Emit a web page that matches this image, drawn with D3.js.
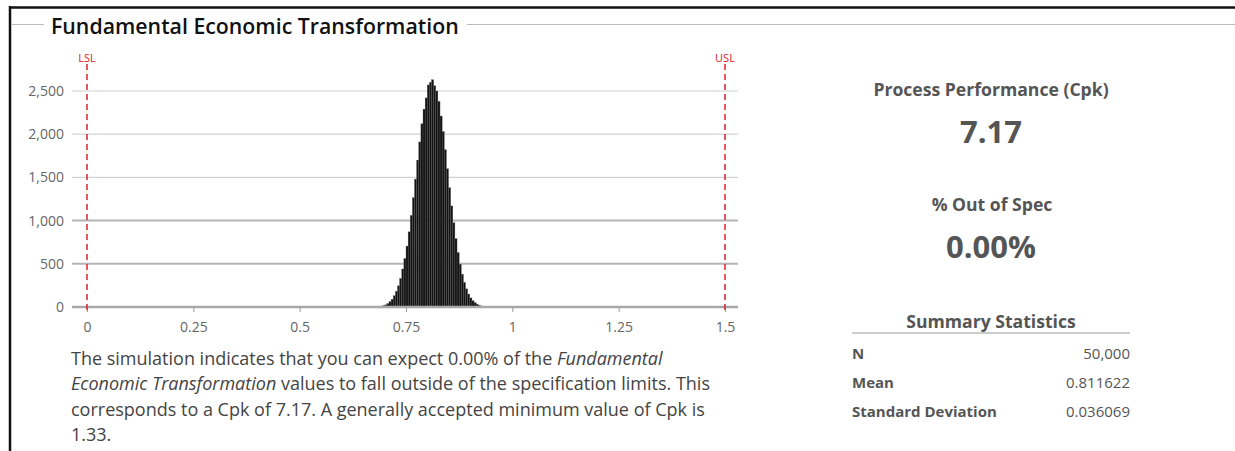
<!DOCTYPE html>
<html>
<head>
<meta charset="utf-8">
<script src="https://cdn.jsdelivr.net/npm/d3@7"></script>
<style>
  html, body { margin: 0; padding: 0; background: #fff; }
  svg { display: block; }
  text { font-family: "Open Sans", "Noto Sans", sans-serif; }
</style>
</head>
<body>
<svg id="chart" width="1235" height="451"></svg>
<script>
// ---------- data ----------
const title = "Fundamental Economic Transformation";
const binStart = 0.695;
const binWidth = 0.005;
const binCounts = [15, 24, 40, 62, 90, 130, 182, 245, 330, 440, 560, 705, 870, 1060, 1265, 1480,
  1700, 1910, 2120, 2290, 2420, 2570, 2600, 2630, 2560, 2500, 2380, 2210, 2030, 1820, 1600, 1380,
  1170, 975, 790, 630, 495, 380, 285, 210, 150, 105, 72, 50, 33, 20, 12, 6];
const xTicks = [0, 0.25, 0.5, 0.75, 1, 1.25, 1.5];
const xTickLabels = ["0", "0.25", "0.5", "0.75", "1", "1.25", "1.5"];
const yTicks = [0, 500, 1000, 1500, 2000, 2500];
const specLimits = [{ name: "LSL", value: 0 }, { name: "USL", value: 1.5 }];
const cpk = "7.17";
const outOfSpec = "0.00%";
const statLabels = ["N", "Mean", "Standard Deviation"];
const statValues = ["50,000", "0.811622", "0.036069"];

// ---------- drawing ----------
const svg = d3.select("#chart");

// outer frame
svg.append("line").attr("x1", 9).attr("x2", 1235).attr("y1", 7.5).attr("y2", 7.5)
  .attr("stroke", "#111").attr("stroke-width", 2.5);
svg.append("line").attr("x1", 10).attr("x2", 10).attr("y1", 6).attr("y2", 451)
  .attr("stroke", "#111").attr("stroke-width", 2.5);

// group box line + title
svg.append("line").attr("x1", 12).attr("x2", 44).attr("y1", 24.5).attr("y2", 24.5)
  .attr("stroke", "#bbb").attr("stroke-width", 1);
svg.append("line").attr("x1", 467).attr("x2", 1235).attr("y1", 24.5).attr("y2", 24.5)
  .attr("stroke", "#bbb").attr("stroke-width", 1);
svg.append("text").attr("x", 51).attr("y", 34)
  .attr("font-size", 21.3).attr("font-weight", 600).attr("fill", "#111")
  .text(title);

// scales
const x = d3.scaleLinear().domain([0, 1.5]).range([87, 725]);
const y = d3.scaleLinear().domain([0, 2500]).range([307, 91]);
const gridLeft = 72, gridRight = 738;

// gridlines
const g = svg.append("g");
g.selectAll("line.grid").data(yTicks.filter(d => d > 0)).join("line")
  .attr("class", "grid")
  .attr("x1", gridLeft).attr("x2", gridRight)
  .attr("y1", d => y(d)).attr("y2", d => y(d))
  .attr("stroke", d => d <= 1000 ? "#b4b4b4" : "#d2d2d2")
  .attr("stroke-width", d => d <= 1000 ? 2 : 1.2);

// y axis labels
const yAxis = d3.axisLeft(y).tickValues(yTicks).tickSize(0).tickPadding(0)
  .tickFormat(d3.format(","));
const ya = svg.append("g").attr("transform", "translate(64,0)").call(yAxis)
  .attr("font-size", 14).attr("font-family", "'Open Sans', sans-serif");
ya.select(".domain").remove();
ya.selectAll("text").attr("fill", "#666").style("font-size", "14px");

// histogram bars
const bins = binCounts.map((c, i) => ({ x0: binStart + i * binWidth, x1: binStart + (i + 1) * binWidth, count: c }));
svg.append("g").selectAll("rect").data(bins).join("rect")
  .attr("x", d => x(d.x0))
  .attr("width", d => Math.max(0, x(d.x1) - x(d.x0)))
  .attr("y", d => y(d.count))
  .attr("height", d => y(0) - y(d.count))
  .attr("fill", "#141414")
  .attr("stroke", "#5a5a5a")
  .attr("stroke-width", 0.35);

// x axis
const xAxis = d3.axisBottom(x).tickValues(xTicks).tickSize(5).tickPadding(10)
  .tickFormat((d, i) => xTickLabels[i]);
const xa = svg.append("g").attr("transform", "translate(0,307)").call(xAxis)
  .attr("font-size", 14).attr("font-family", "'Open Sans', sans-serif");
xa.select(".domain").remove();
xa.selectAll(".tick line").attr("stroke", "#999").attr("stroke-width", 1);
xa.selectAll("text").attr("fill", "#666").style("font-size", "14px");
svg.append("line").attr("x1", gridLeft).attr("x2", gridRight)
  .attr("y1", 307).attr("y2", 307).attr("stroke", "#a8a8a8").attr("stroke-width", 2.5);

// spec limits
const spec = svg.append("g").selectAll("g").data(specLimits).join("g");
spec.append("line")
  .attr("x1", d => x(d.value)).attr("x2", d => x(d.value))
  .attr("y1", 64).attr("y2", 310)
  .attr("stroke", "#e0202a").attr("stroke-width", 1.5)
  .attr("stroke-dasharray", "6,4");
spec.append("text")
  .attr("x", d => x(d.value)).attr("y", 62)
  .attr("text-anchor", "middle")
  .attr("font-size", 11).attr("fill", "#e0202a")
  .text(d => d.name);

// description paragraph
const lines = [
  [["The simulation indicates that you can expect " + outOfSpec + " of the ", false], ["Fundamental", true]],
  [["Economic Transformation", true], [" values to fall outside of the specification limits. This", false]],
  [["corresponds to a Cpk of " + cpk + ". A generally accepted minimum value of Cpk is", false]],
  [["1.33.", false]]
];
lines.forEach((ln, i) => {
  const t = svg.append("text").attr("x", 71).attr("y", 365 + i * 25.3)
    .attr("font-size", 18).attr("fill", "#444");
  ln.forEach(([s, it]) => t.append("tspan").attr("font-style", it ? "italic" : "normal").text(s));
});

// right panel
const cx = 991;
svg.append("text").attr("x", cx).attr("y", 96).attr("text-anchor", "middle")
  .attr("font-size", 17.6).attr("font-weight", 700).attr("fill", "#555")
  .text("Process Performance (Cpk)");
svg.append("text").attr("x", cx).attr("y", 143).attr("text-anchor", "middle")
  .attr("font-size", 31).attr("font-weight", 700).attr("fill", "#555")
  .text(cpk);
svg.append("text").attr("x", cx + 1).attr("y", 211).attr("text-anchor", "middle")
  .attr("font-size", 17.6).attr("font-weight", 700).attr("fill", "#555")
  .text("% Out of Spec");
svg.append("text").attr("x", cx).attr("y", 258).attr("text-anchor", "middle")
  .attr("font-size", 31).attr("font-weight", 700).attr("fill", "#555")
  .text(outOfSpec);
svg.append("text").attr("x", cx).attr("y", 328).attr("text-anchor", "middle")
  .attr("font-size", 17.6).attr("font-weight", 700).attr("fill", "#555")
  .text("Summary Statistics");
svg.append("line").attr("x1", 852).attr("x2", 1130).attr("y1", 333).attr("y2", 333)
  .attr("stroke", "#ccc").attr("stroke-width", 2);

const rows = svg.append("g").selectAll("g").data(statLabels).join("g")
  .attr("transform", (d, i) => `translate(0,${359 + i * 29})`);
rows.append("text").attr("x", 852).attr("font-size", 15).attr("font-weight", 700)
  .attr("fill", "#555").text(d => d);
rows.append("text").attr("x", 1130).attr("text-anchor", "end").attr("font-size", 15)
  .attr("fill", "#555").text((d, i) => statValues[i]);
</script>
</body>
</html>
